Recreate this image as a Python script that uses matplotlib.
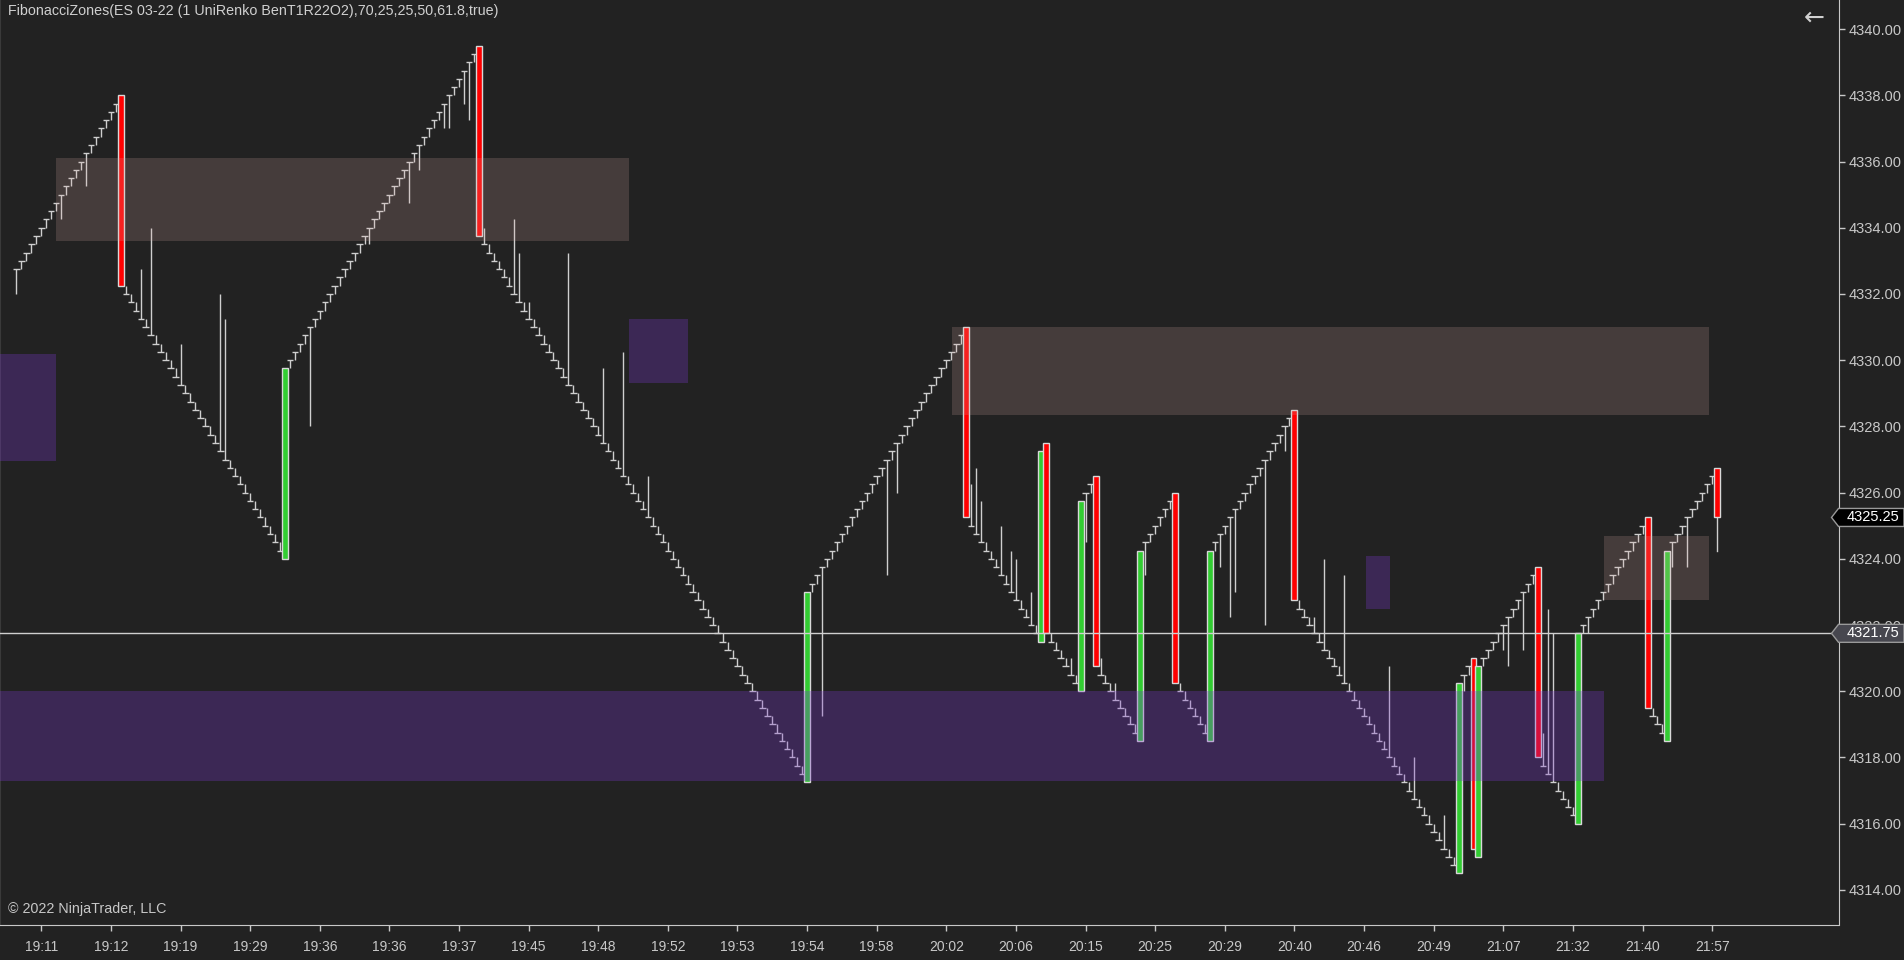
import matplotlib
matplotlib.use("Agg")
import matplotlib.pyplot as plt
from matplotlib.collections import LineCollection
from matplotlib.patches import Rectangle, Polygon
from matplotlib.transforms import IdentityTransform

plt.rcParams['font.family'] = ['Liberation Sans', 'DejaVu Sans']

# closes of every UniRenko bar (trend bars are one tick, reversal bars are listed below)
closes = [
    # up 0-20
    4332.75, 4333.0, 4333.25, 4333.5, 4333.75, 4334.0, 4334.25, 4334.5, 4334.75, 4335.0,
    4335.25, 4335.5, 4335.75, 4336.0, 4336.25, 4336.5, 4336.75, 4337.0, 4337.25, 4337.5, 4337.75,
    4332.25,
    # down 22-53
    4332.0, 4331.75, 4331.5, 4331.25, 4331.0, 4330.75, 4330.5, 4330.25, 4330.0, 4329.75,
    4329.5, 4329.25, 4329.0, 4328.75, 4328.5, 4328.25, 4328.0, 4327.75, 4327.5, 4327.25,
    4327.0, 4326.75, 4326.5, 4326.25, 4326.0, 4325.75, 4325.5, 4325.25, 4325.0, 4324.75,
    4324.5, 4324.25,
    4329.75,
    # up 55-92
    4330.0, 4330.25, 4330.5, 4330.75, 4331.0, 4331.25, 4331.5, 4331.75, 4332.0, 4332.25,
    4332.5, 4332.75, 4333.0, 4333.25, 4333.5, 4333.75, 4334.0, 4334.25, 4334.5, 4334.75,
    4335.0, 4335.25, 4335.5, 4335.75, 4336.0, 4336.25, 4336.5, 4336.75, 4337.0, 4337.25,
    4337.5, 4337.75, 4338.0, 4338.25, 4338.5, 4338.75, 4339.0, 4339.25,
    4333.75,
    # down 94-158
    4333.5, 4333.25, 4333.0, 4332.75, 4332.5, 4332.25, 4332.0, 4331.75, 4331.5, 4331.25,
    4331.0, 4330.75, 4330.5, 4330.25, 4330.0, 4329.75, 4329.5, 4329.25, 4329.0, 4328.75,
    4328.5, 4328.25, 4328.0, 4327.75, 4327.5, 4327.25, 4327.0, 4326.75, 4326.5, 4326.25,
    4326.0, 4325.75, 4325.5, 4325.25, 4325.0, 4324.75, 4324.5, 4324.25, 4324.0, 4323.75,
    4323.5, 4323.25, 4323.0, 4322.75, 4322.5, 4322.25, 4322.0, 4321.75, 4321.5, 4321.25,
    4321.0, 4320.75, 4320.5, 4320.25, 4320.0, 4319.75, 4319.5, 4319.25, 4319.0, 4318.75,
    4318.5, 4318.25, 4318.0, 4317.75, 4317.5,
    4323.0,
    # up 160-190
    4323.25, 4323.5, 4323.75, 4324.0, 4324.25, 4324.5, 4324.75, 4325.0, 4325.25, 4325.5,
    4325.75, 4326.0, 4326.25, 4326.5, 4326.75, 4327.0, 4327.25, 4327.5, 4327.75, 4328.0,
    4328.25, 4328.5, 4328.75, 4329.0, 4329.25, 4329.5, 4329.75, 4330.0, 4330.25, 4330.5, 4330.75,
    4325.25,
    # down 192-205
    4325.0, 4324.75, 4324.5, 4324.25, 4324.0, 4323.75, 4323.5, 4323.25, 4323.0, 4322.75,
    4322.5, 4322.25, 4322.0, 4321.75,
    4327.25, 4321.75,
    4321.5, 4321.25, 4321.0, 4320.75, 4320.5, 4320.25,
    4325.75,
    4326.0, 4326.25,
    4320.75,
    4320.5, 4320.25, 4320.0, 4319.75, 4319.5, 4319.25, 4319.0, 4318.75,
    4324.25,
    4324.5, 4324.75, 4325.0, 4325.25, 4325.5, 4325.75,
    4320.25,
    4320.0, 4319.75, 4319.5, 4319.25, 4319.0, 4318.75,
    4324.25,
    # up 241-256
    4324.5, 4324.75, 4325.0, 4325.25, 4325.5, 4325.75, 4326.0, 4326.25, 4326.5, 4326.75,
    4327.0, 4327.25, 4327.5, 4327.75, 4328.0, 4328.25,
    4322.75,
    # down 258-289
    4322.5, 4322.25, 4322.0, 4321.75, 4321.5, 4321.25, 4321.0, 4320.75, 4320.5, 4320.25,
    4320.0, 4319.75, 4319.5, 4319.25, 4319.0, 4318.75, 4318.5, 4318.25, 4318.0, 4317.75,
    4317.5, 4317.25, 4317.0, 4316.75, 4316.5, 4316.25, 4316.0, 4315.75, 4315.5, 4315.25,
    4315.0, 4314.75,
    4320.25,
    4320.5, 4320.75,
    4315.25, 4320.75,
    4321.0, 4321.25, 4321.5, 4321.75, 4322.0, 4322.25, 4322.5, 4322.75, 4323.0, 4323.25, 4323.5,
    4318.0,
    4317.75, 4317.5, 4317.25, 4317.0, 4316.75, 4316.5, 4316.25,
    4321.75,
    4322.0, 4322.25, 4322.5, 4322.75, 4323.0, 4323.25, 4323.5, 4323.75, 4324.0, 4324.25,
    4324.5, 4324.75, 4325.0,
    4319.5,
    4319.25, 4319.0, 4318.75,
    4324.25,
    4324.5, 4324.75, 4325.0, 4325.25, 4325.5, 4325.75, 4326.0, 4326.25, 4326.5,
    4325.25,
]

# reversal bars: index and open (close is in closes)
rev_idx = [21, 54, 93, 159, 191, 206, 207, 214, 217, 226, 233, 240, 257,
           290, 293, 294, 306, 314, 328, 332, 342]
rev_open = [4338.0, 4324.0, 4339.5, 4317.25, 4331.0, 4321.5, 4327.5, 4320.0, 4326.5,
            4318.5, 4326.0, 4318.5, 4328.5, 4314.5, 4321.0, 4315.0, 4323.75, 4316.0,
            4325.25, 4318.5, 4326.75]

# long wicks: bar index and wick end price
wick_idx = [0, 9, 14, 25, 27, 33, 41, 42, 59, 71, 79, 81, 86, 87, 90, 91,
            94, 100, 101, 103, 111, 118, 122, 127, 162, 175, 177,
            192, 193, 194, 198, 200, 201, 204, 212, 215, 218, 221, 227,
            242, 244, 245, 251, 255, 261, 263, 267, 276, 281, 287,
            291, 299, 300, 303, 307, 308, 309, 316, 333, 336, 342]
wick_end = [4332.0, 4334.25, 4335.25, 4332.75, 4334.0, 4330.5, 4332.0, 4331.25, 4328.0,
            4333.5, 4334.75, 4335.75, 4337.0, 4337.0, 4337.75, 4337.25,
            4334.0, 4334.25, 4333.25, 4331.75, 4333.25, 4329.75, 4330.25, 4326.5,
            4319.25, 4323.5, 4326.0,
            4326.25, 4326.75, 4325.75, 4325.0, 4324.25, 4324.0, 4323.0, 4321.0,
            4324.5, 4321.0, 4320.25, 4323.5,
            4323.75, 4322.25, 4323.0, 4322.0, 4327.25, 4322.25, 4324.0, 4323.5,
            4320.75, 4318.0, 4316.25,
            4320.0, 4321.25, 4320.75, 4321.25, 4318.75, 4322.5, 4321.75, 4321.75,
            4323.75, 4323.75, 4324.25]

# fibonacci zones: (x start, x end, low, high) in bar units
zone_kind = ['up', 'dn', 'dn', 'up', 'dn', 'dn', 'up']
zone_x0 = [7.9, -4.0, 123.2, 188.2, -4.0, 271.3, 319.3]
zone_x1 = [123.2, 7.9, 135.1, 340.3, 319.3, 276.3, 340.3]
zone_lo = [4333.6, 4326.95, 4329.3, 4328.35, 4317.3, 4322.5, 4322.75]
zone_hi = [4336.1, 4330.2, 4331.25, 4331.0, 4320.0, 4324.1, 4324.7]

time_labels = ['19:11', '19:12', '19:19', '19:29', '19:36', '19:36', '19:37', '19:45',
               '19:48', '19:52', '19:53', '19:54', '19:58', '20:02', '20:06', '20:15',
               '20:25', '20:29', '20:40', '20:46', '20:49', '21:07', '21:32', '21:40', '21:57']
time_label_idx = [5 + 14 * k for k in range(len(time_labels))]

last_price = 4325.25
current_price = 4321.75

BG = '#222222'
TXT = '#c8c8c8'

fig = plt.figure(figsize=(19.04, 9.6), dpi=100, facecolor=BG)
ax = fig.add_axes([0, 35 / 960, 1838.5 / 1904, 925 / 960])
ax.set_facecolor(BG)
ax.set_xlim(-3.3, 366.4)
ax.set_ylim(4312.94, 4340.88)

# trend bars
rev_set = set(rev_idx)
wicks = dict(zip(wick_idx, wick_end))
segs = []
for i, c in enumerate(closes):
    if i in rev_set:
        continue
    prev = closes[i - 1] if i > 0 else c - 0.25
    up = c > prev
    if up:
        lo = min(prev, wicks.get(i, prev))
        segs.append([(i, lo), (i, c)])
    else:
        hi = max(prev, wicks.get(i, prev))
        segs.append([(i, c), (i, hi)])
    segs.append([(i - 0.65, c), (i + 0.65, c)])
ax.add_collection(LineCollection(segs, colors='#cfcfcf', linewidths=1.0, zorder=2))

# reversal bars
for i, o in zip(rev_idx, rev_open):
    c = closes[i]
    col = '#32cd32' if c > o else '#ff0000'
    ax.add_patch(Rectangle((i - 0.6, min(o, c)), 1.2, abs(c - o), facecolor=col,
                           edgecolor='#d8d8d8', lw=1.0, zorder=3))
    if i in wicks:
        ax.plot([i, i], [min(o, c), wicks[i]], color='#cfcfcf', lw=1.0, zorder=2)

# zones
for k, x0, x1, lo, hi in zip(zone_kind, zone_x0, zone_x1, zone_lo, zone_hi):
    fc = (214 / 255, 169 / 255, 164 / 255, 0.2) if k == 'up' else (121 / 255, 54 / 255, 204 / 255, 0.3)
    ax.add_patch(Rectangle((x0, lo), x1 - x0, hi - lo, facecolor=fc, edgecolor='none', zorder=4))

ax.axhline(current_price, color='#d0d0d0', lw=1.0, zorder=5)

# axes styling
ax.spines['top'].set_visible(False)
ax.spines['left'].set_color('#3a3a3a')
ax.spines['right'].set_color(TXT)
ax.spines['bottom'].set_color(TXT)
ax.yaxis.tick_right()
yt = [4314 + 2 * k for k in range(14)]
ax.set_yticks(yt)
ax.set_yticklabels(['%.2f' % v for v in yt])
ax.set_xticks(time_label_idx)
ax.set_xticklabels(time_labels)
ax.tick_params(axis='y', colors=TXT, length=4, width=1, pad=3, labelsize=10.5)
ax.tick_params(axis='x', colors=TXT, length=4, width=1, pad=7, labelsize=10)

fig.text(8 / 1904, 1 - 11.5 / 960, 'FibonacciZones(ES 03-22 (1 UniRenko BenT1R22O2),70,25,25,50,61.8,true)',
         color='#d0d0d0', fontsize=10.3, va='center', ha='left')
fig.text(8 / 1904, 1 - 909.5 / 960, '\u00a9 2022 NinjaTrader, LLC', color=TXT, fontsize=10.3,
         va='center', ha='left')
fig.text(1814 / 1904, 1 - 18 / 960, '\u2190', color='#d0d0d0', fontsize=18, va='center', ha='center',
         family='DejaVu Sans')

# price markers on the axis
fig.canvas.draw()
for p, fc in [(last_price, '#000000'), (current_price, '#47474f')]:
    yp = ax.transData.transform((0, p))[1]
    pts = [(1831.5, yp), (1838.5, yp + 9), (1904, yp + 9), (1904, yp - 9), (1838.5, yp - 9)]
    fig.add_artist(Polygon(pts, closed=True, facecolor=fc, edgecolor='#9a9a9a', lw=1.0,
                           transform=IdentityTransform(), zorder=10))
    fig.text(1846.5 / 1904, yp / 960, '%.2f' % p, color='white', fontsize=10.5, va='center',
             ha='left', zorder=11)

fig.savefig('out.png', dpi=100, facecolor=BG)
